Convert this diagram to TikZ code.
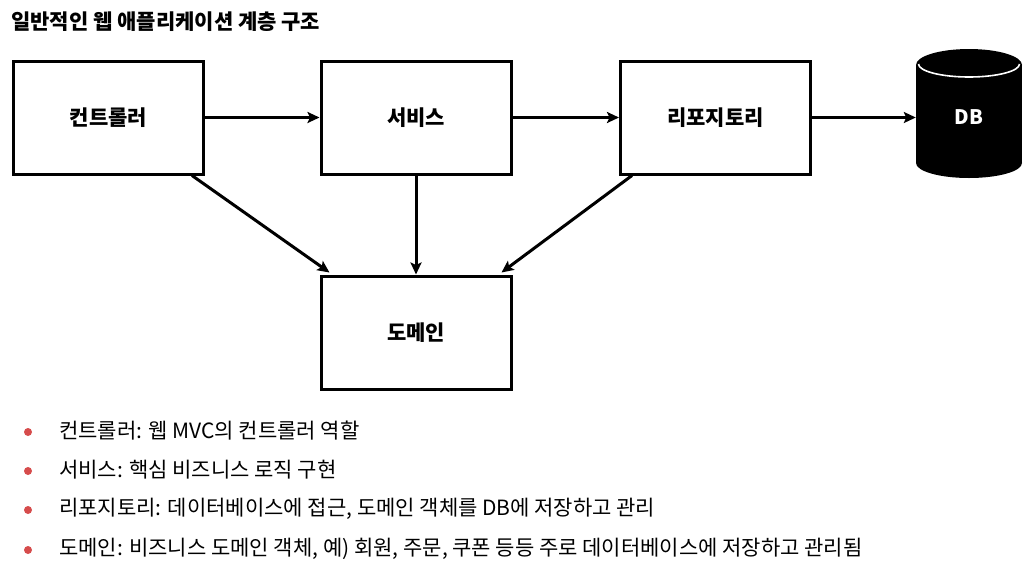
\documentclass[tikz,border=0pt]{standalone}
\usepackage{fontspec}
\setmainfont{Noto Sans CJK KR}
\usetikzlibrary{arrows.meta,calc}
\definecolor{bulletred}{RGB}{214,76,76}
\begin{document}
\begin{tikzpicture}[x=1pt,y=-1pt,
  box/.style={draw=black,line width=3pt,minimum width=190pt,minimum height=113pt,inner sep=0pt,font=\fontsize{21}{24}\selectfont\bfseries},
  conn/.style={line width=3pt,-{Stealth[length=12pt,width=11pt,inset=2.5pt]}},
  item/.style={anchor=west,inner sep=0pt,font=\fontsize{21}{24}\selectfont},
  dot/.style={circle,fill=bulletred,inner sep=0pt,minimum size=8pt}]
\useasboundingbox (0,0) rectangle (1033,571);
\node[anchor=west,inner sep=0pt,font=\fontsize{21}{24}\selectfont\bfseries] (title) at (11,22) {일반적인 웹 애플리케이션 계층 구조};
\node[box] (ctrl) at (108.5,117.5) {컨트롤러};
\node[box] (svc) at (416,117.5) {서비스};
\node[box] (repo) at (715.5,117.5) {리포지토리};
\node[box] (dom) at (416,332.5) {도메인};
% DB cylinder
\fill[black] (916,65) rectangle (1022,163);
\fill[black] (969,65) ellipse[x radius=53,y radius=16];
\fill[black] (969,163) ellipse[x radius=53,y radius=15];
\draw[white,line width=1.6pt] (918.5,64) arc[start angle=180,end angle=0,x radius=50.5,y radius=13];
\node[inner sep=0pt,minimum width=106pt,minimum height=130pt,text=white,font=\fontsize{20}{24}\selectfont\bfseries] (db) at (969,117.5) {DB};
% connectors
\draw[conn] (ctrl) -- (svc);
\draw[conn] (svc) -- (repo);
\draw[conn] (repo.east) -- (db.west);
\draw[conn] ($(ctrl.south east)+(-13,0)$) -- ($(dom.north west)+(10,-2)$);
\draw[conn] (svc) -- (dom);
\draw[conn] ($(repo.south west)+(13,0)$) -- ($(dom.north east)+(-11,-2)$);
% bullets
\node[dot] (d1) at (28,432) {};
\node[dot] (d2) at (28,471) {};
\node[dot] (d3) at (28,510) {};
\node[dot] (d4) at (28,550) {};
\node[item] (t1) at (59,431) {컨트롤러: 웹 MVC의 컨트롤러 역할};
\node[item] (t2) at (59,470) {서비스: 핵심 비즈니스 로직 구현};
\node[item] (t3) at (59,509) {리포지토리: 데이터베이스에 접근, 도메인 객체를 DB에 저장하고 관리};
\node[item] (t4) at (59,549) {도메인: 비즈니스 도메인 객체, 예) 회원, 주문, 쿠폰 등등 주로 데이터베이스에 저장하고 관리됨};
\end{tikzpicture}
\end{document}
